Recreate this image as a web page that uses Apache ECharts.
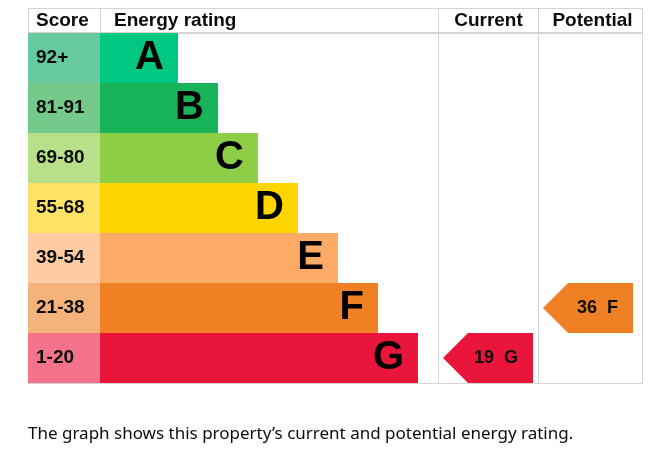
<!DOCTYPE html>
<html>
<head>
<meta charset="utf-8">
<script src="https://cdn.jsdelivr.net/npm/echarts@6/dist/echarts.min.js"></script>
<style>html,body{margin:0;padding:0;background:#fff;}#c{width:672px;height:459px;}</style>
</head>
<body>
<div id="c"></div>
<script>
const ratings = ['A', 'B', 'C', 'D', 'E', 'F', 'G'];
const scoreLabels = ['92+', '81-91', '69-80', '55-68', '39-54', '21-38', '1-20'];
const barLengths = [1.95, 2.95, 3.95, 4.95, 5.95, 6.95, 7.95];
const barColors = ['#00c781', '#19b459', '#8dce46', '#ffd500', '#fcaa65', '#ef8023', '#e9153b'];
const scoreColors = ['#67c9a0', '#75c98b', '#b8e08a', '#ffe366', '#fdcca3', '#f5b37b', '#f2738a'];
const currentRating = { score: 19, band: 'G' };
const potentialRating = { score: 36, band: 'F' };
const headers = ['Score', 'Energy rating', 'Current', 'Potential'];
const caption = 'The graph shows this property\u2019s current and potential energy rating.';

const FONT = 'Liberation Sans, Arial, sans-serif';
const TXT = '#0b0c0c';
const LINE = '#d4d4d4';

const chart = echarts.init(document.getElementById('c'), null, { renderer: 'canvas' });

const T = 33, H = 350;
const gridDefs = [
  { left: 28, top: T, width: 72, height: H },
  { left: 100, top: T, width: 338, height: H },
  { left: 438, top: T, width: 100, height: H },
  { left: 538, top: T, width: 104, height: H }
];

function arrowRender(params, api) {
  const p = api.coord([0, api.value(1)]);
  const bh = api.size([0, 1])[1];
  const x = params.coordSys.x;
  const y = p[1];
  const tip = x + 5, neck = x + 30, right = x + 95;
  const c = barColors[api.value(1)];
  return {
    type: 'group',
    children: [
      { type: 'polygon', shape: { points: [[tip, y], [neck, y - bh / 2], [right, y - bh / 2], [right, y + bh / 2], [neck, y + bh / 2]] }, style: { fill: c } },
      { type: 'text', style: { x: right - 15, y: y, text: api.value(2) + '  ' + ratings[api.value(1)], align: 'right', verticalAlign: 'middle', font: 'bold 18px ' + FONT, fill: TXT } }
    ]
  };
}

const hdrY = 21;
const graphic = [
  { type: 'line', shape: { x1: 28, y1: 8.5, x2: 642, y2: 8.5 }, style: { stroke: LINE, lineWidth: 1 } },
  { type: 'line', shape: { x1: 28, y1: 33, x2: 642, y2: 33 }, style: { stroke: LINE, lineWidth: 2 } },
  { type: 'line', shape: { x1: 28, y1: 383.5, x2: 642, y2: 383.5 }, style: { stroke: LINE, lineWidth: 1 } },
  { type: 'line', shape: { x1: 28.5, y1: 8, x2: 28.5, y2: 33 }, style: { stroke: LINE, lineWidth: 1 } },
  { type: 'line', shape: { x1: 100.5, y1: 8, x2: 100.5, y2: 33 }, style: { stroke: LINE, lineWidth: 1 } },
  { type: 'line', shape: { x1: 438.5, y1: 8, x2: 438.5, y2: 384 }, style: { stroke: LINE, lineWidth: 1 } },
  { type: 'line', shape: { x1: 538.5, y1: 8, x2: 538.5, y2: 384 }, style: { stroke: LINE, lineWidth: 1 } },
  { type: 'line', shape: { x1: 642.5, y1: 8, x2: 642.5, y2: 384 }, style: { stroke: LINE, lineWidth: 1 } },
  { type: 'text', style: { x: 36, y: hdrY, text: headers[0], font: 'bold 19px ' + FONT, fill: TXT, verticalAlign: 'middle' } },
  { type: 'text', style: { x: 114, y: hdrY, text: headers[1], font: 'bold 19px ' + FONT, fill: TXT, verticalAlign: 'middle' } },
  { type: 'text', style: { x: 488.5, y: hdrY, text: headers[2], font: 'bold 19px ' + FONT, fill: TXT, verticalAlign: 'middle', align: 'center' } },
  { type: 'text', style: { x: 592.5, y: hdrY, text: headers[3], font: 'bold 19px ' + FONT, fill: TXT, verticalAlign: 'middle', align: 'center' } },
  { type: 'text', style: { x: 28, y: 434, text: caption, font: '17px "Noto Sans", sans-serif', fill: TXT, verticalAlign: 'middle' } }
];

const option = {
  animation: false,
  backgroundColor: '#fff',
  grid: gridDefs.map(g => Object.assign({ containLabel: false }, g)),
  xAxis: [
    { gridIndex: 0, type: 'value', min: 0, max: 1, show: false },
    { gridIndex: 1, type: 'value', min: 0, max: 8.45, show: false },
    { gridIndex: 2, type: 'value', min: 0, max: 1, show: false },
    { gridIndex: 3, type: 'value', min: 0, max: 1, show: false }
  ],
  yAxis: [0, 1, 2, 3].map(i => ({ gridIndex: i, type: 'category', data: ratings, inverse: true, show: false })),
  graphic: graphic,
  series: [
    {
      type: 'bar', xAxisIndex: 0, yAxisIndex: 0, barWidth: '100%', silent: true,
      data: scoreLabels.map((s, i) => ({ value: 1, itemStyle: { color: scoreColors[i] } })),
      label: { show: true, position: 'insideLeft', distance: 8, formatter: p => scoreLabels[p.dataIndex], fontFamily: FONT, fontWeight: 'bold', fontSize: 19, color: TXT }
    },
    {
      type: 'bar', xAxisIndex: 1, yAxisIndex: 1, barWidth: '100%', silent: true,
      data: barLengths.map((v, i) => ({ value: v, itemStyle: { color: barColors[i] } })),
      label: { show: true, position: 'insideRight', distance: 14, formatter: p => ratings[p.dataIndex], fontFamily: FONT, fontWeight: 'bold', fontSize: 40, color: '#000' }
    },
    {
      type: 'custom', xAxisIndex: 2, yAxisIndex: 2, silent: true, renderItem: arrowRender,
      data: [[0, ratings.indexOf(currentRating.band), currentRating.score]]
    },
    {
      type: 'custom', xAxisIndex: 3, yAxisIndex: 3, silent: true, renderItem: arrowRender,
      data: [[0, ratings.indexOf(potentialRating.band), potentialRating.score]]
    }
  ]
};
chart.setOption(option);
</script>
</body>
</html>
